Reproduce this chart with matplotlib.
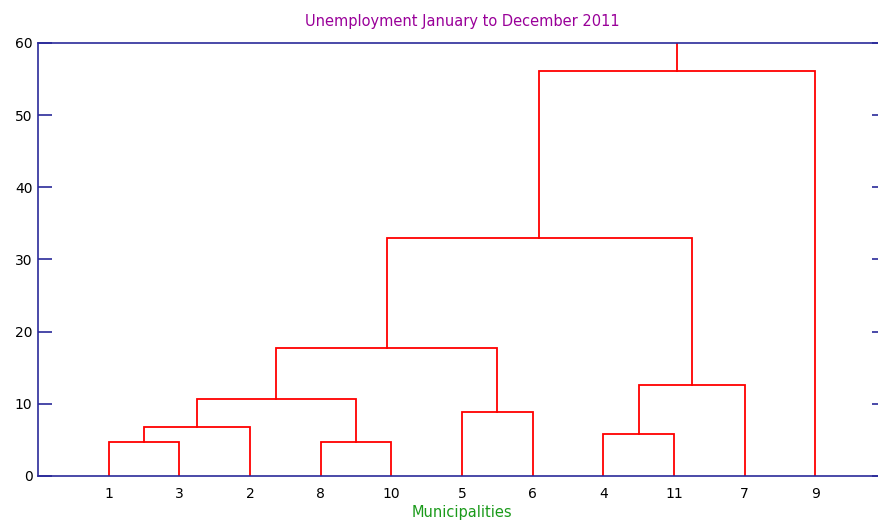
import matplotlib
matplotlib.use("Agg")
import matplotlib.pyplot as plt

# leaf order along the x axis
leaf_order = [1, 3, 2, 8, 10, 5, 6, 4, 11, 7, 9]
# merges: (left cluster, right cluster, height); new clusters numbered 12, 13, ...
merges = [
    (1, 3, 4.7),
    (12, 2, 6.8),
    (8, 10, 4.7),
    (13, 14, 10.7),
    (5, 6, 8.8),
    (15, 16, 17.7),
    (4, 11, 5.8),
    (18, 7, 12.65),
    (17, 19, 33.0),
    (20, 9, 56.1),
]
y_ticks = [0, 10, 20, 30, 40, 50, 60]

fig = plt.figure(figsize=(8.79, 5.21), dpi=100)
ax = fig.add_axes([0.0432, 0.0864, 0.9647, 0.8311])

pos = {leaf: i + 1 for i, leaf in enumerate(leaf_order)}
hgt = {leaf: 0.0 for leaf in leaf_order}
n = len(leaf_order)
for k, (a, b, h) in enumerate(merges):
    xa, xb = pos[a], pos[b]
    ax.plot([xa, xa, xb, xb], [hgt[a], h, h, hgt[b]], color="red", lw=1.3,
            solid_joinstyle="miter")
    pos[n + k + 1] = (xa + xb) / 2
    hgt[n + k + 1] = h

# stem of the root, running off the top
root = n + len(merges)
ax.plot([pos[root], pos[root]], [hgt[root], 70], color="red", lw=1.3)

ax.set_xlim(0, 12)
ax.set_ylim(0, 60)
ax.set_xticks(range(1, n + 1))
ax.set_xticklabels([str(l) for l in leaf_order])
ax.set_yticks(y_ticks)
ax.tick_params(axis="x", length=0, labelsize=10, pad=8)
ax.tick_params(axis="y", direction="in", length=10, width=1.2, color="#2a2a9a",
               labelsize=10, right=True, pad=4)
for s in ax.spines.values():
    s.set_color("#2a2a9a")
    s.set_linewidth(1.2)

ax.set_title("Unemployment January to December 2011", color="#990099",
             fontsize=10.5, pad=12)
ax.set_xlabel("Municipalities", color="#1a9a1a", fontsize=10.5, labelpad=3)

fig.savefig("out.png", dpi=100)
